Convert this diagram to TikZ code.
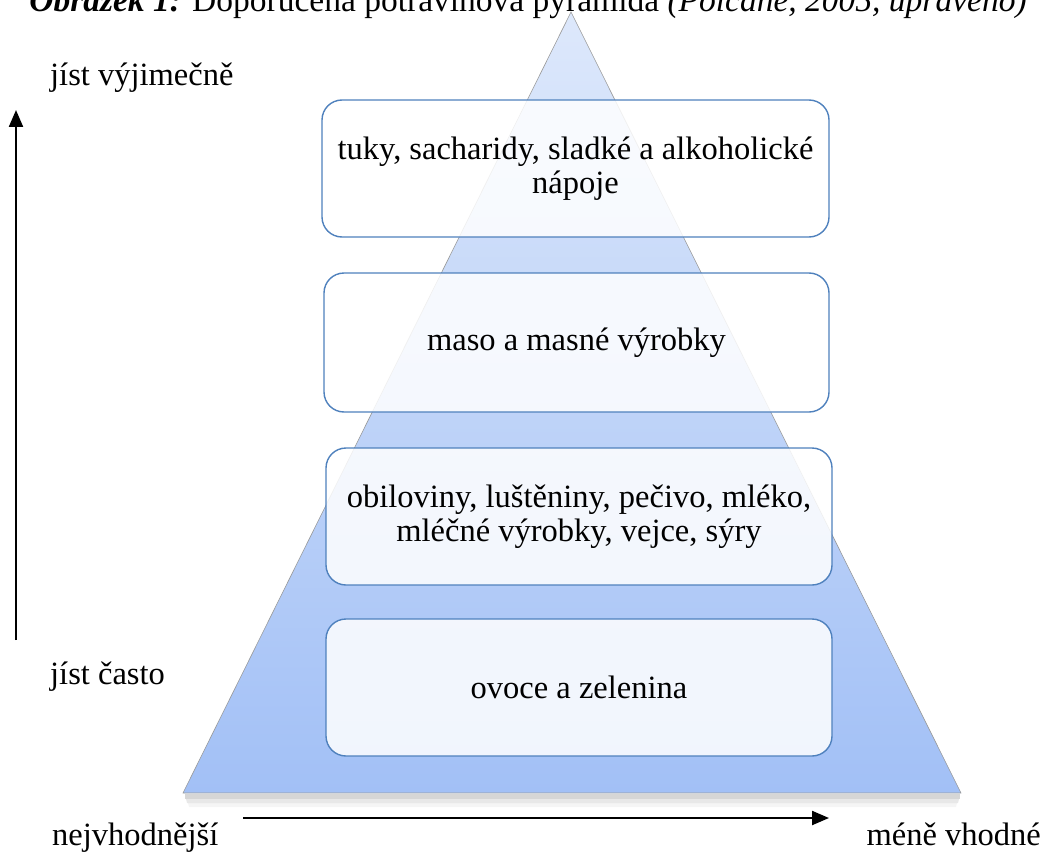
\documentclass[tikz,border=0pt]{standalone}
\usepackage{fontspec}
\setmainfont{Liberation Serif}
\usetikzlibrary{arrows.meta}
\definecolor{boxblue}{HTML}{4F81BD}
\definecolor{pyrtop}{HTML}{DDE8FB}
\definecolor{pyrbot}{HTML}{A2C0F6}
\tikzset{
  levelbox/.style={draw=boxblue, line width=1.4pt, rounded corners=20pt, fill=white, fill opacity=0.85, text opacity=1, align=center, inner sep=0pt, minimum height=137pt},
  axisarrow/.style={line width=2.2pt, -{Triangle[length=17pt,width=14pt]}},
  lbl/.style={inner sep=0pt, font=\fontsize{32.5}{34}\selectfont},
}
\begin{document}
\begin{tikzpicture}[x=1pt,y=-1pt, font=\fontsize{32.5}{34}\selectfont]
\useasboundingbox (0,0) rectangle (1046,856);
\clip (0,0) rectangle (1046,856);
% caption (cut off at top)
\node[lbl, anchor=base, font=\fontsize{33.5}{36}\selectfont] (cap) at (528,12) {\textbf{\textit{Obrázek 1:}} Doporučená potravinová pyramida \textit{(Polcane, 2005, upraveno)}};
% shadow
\fill[black, opacity=0.16] (185,794) -- (960,794) -- (960,799) -- (185,799) -- cycle;
\fill[black, opacity=0.09] (186,799) -- (959,799) -- (958,803) -- (187,803) -- cycle;
\fill[black, opacity=0.04] (188,803) -- (957,803) -- (956,807) -- (189,807) -- cycle;
% pyramid
\shade[top color=pyrtop, bottom color=pyrbot, draw=gray!80, line width=0.6pt] (571,12) -- (961,793) -- (183,793) -- cycle;
% level boxes
\node[levelbox, minimum width=507pt] (b1) at (575.5,168.5) {tuky, sacharidy, sladké a alkoholické\\nápoje};
\node[levelbox, minimum width=505pt, minimum height=139pt] (b2) at (576.5,342.5) {maso a masné výrobky};
\node[levelbox, minimum width=506pt] (b3) at (579,516.5) {obiloviny, luštěniny, pečivo, mléko,\\mléčné výrobky, vejce, sýry};
\node[levelbox, minimum width=506pt] (b4) at (579,687.5) {ovoce a zelenina};
% axes
\coordinate (vs) at (16,640);
\coordinate (ve) at (16,110);
\draw[axisarrow] (vs) -- (ve);
\coordinate (hs) at (243,818);
\coordinate (he) at (829,818);
\draw[axisarrow] (hs) -- (he);
% labels
\node[lbl, anchor=base west] (rare) at (50,86) {jíst výjimečně};
\node[lbl, anchor=base west] (often) at (50,684) {jíst často};
\node[lbl, anchor=base west] (best) at (52,845) {nejvhodnější};
\node[lbl, anchor=base east] (less) at (1041,845) {méně vhodné};
\end{tikzpicture}
\end{document}
